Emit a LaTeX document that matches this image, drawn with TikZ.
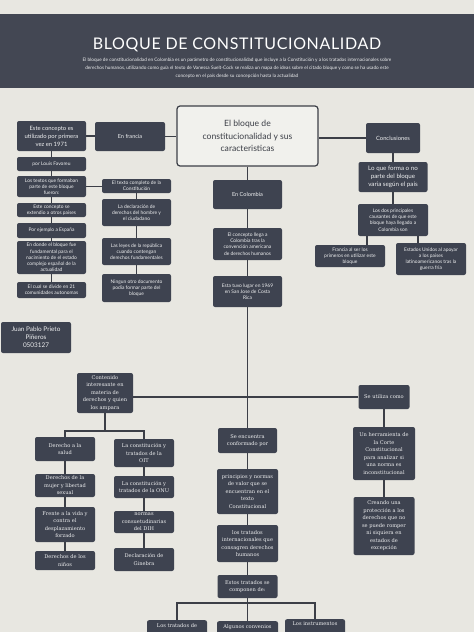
\documentclass[tikz,border=0pt]{standalone}
\usepackage{fontspec}
\setmainfont{DejaVu Serif}
\newfontfamily\boxsans{Lato}
\usetikzlibrary{positioning, calc}
\definecolor{fondo}{HTML}{E8E7E1}
\definecolor{oscuro}{HTML}{3E4350}
\definecolor{cabeza}{HTML}{434753}
\definecolor{linea}{HTML}{3C3F47}

\begin{document}
\begin{tikzpicture}[x=1pt, y=-1pt,
    caja/.style={fill=oscuro, text=white!92!oscuro, rounded corners=2pt, align=center, inner sep=1pt},
    arriba/.style={caja, font=\boxsans\fontsize{4.9}{6.2}\selectfont},
    abajo/.style={caja, font=\fontsize{5.1}{7.5}\selectfont},
    con/.style={draw=linea, line width=1.4pt}]
    \useasboundingbox (0,0) rectangle (474,632);
    \fill[fondo] (0,0) rectangle (474,632);
    \fill[cabeza] (0,14) rectangle (474,88);
    \node[text=white, font=\boxsans\fontsize{16}{20}\selectfont\addfontfeatures{LetterSpace=4}] (tit) at (237,45) {BLOQUE DE CONSTITUCIONALIDAD};
    \node[text=white!90!cabeza, align=center, font=\boxsans\fontsize{4.7}{8}\selectfont] (intro) at (237,68)
        {El bloque de constitucionalidad en Colombia es un parámetro de constitucionalidad que incluye a la Constitución y a los tratados internacionales sobre\\
         derechos humanos, utilizando como guía el texto de Vanessa Suelt-Cock se realiza un mapa de ideas sobre el citado bloque y como se ha usado este\\
         concepto en el país desde su concepción hasta la actualidad};

    % parte de arriba
    \node[draw=linea, line width=1.2pt, fill=fondo!60!white, rounded corners=3pt, minimum width=141, minimum height=60,
        align=center, text=linea, font=\boxsans\fontsize{8.6}{12.5}\selectfont] (m) at (247.5,136)
        {El bloque de\\constitucionalidad y sus\\caracteristicas};
    \node[arriba, font=\boxsans\fontsize{5.6}{7}\selectfont, minimum width=70, minimum height=29] (fr) at (130,136.5) {En francia};
    \node[arriba, font=\boxsans\fontsize{5.9}{8}\selectfont, minimum width=69, minimum height=30] (c1) at (51.5,136) {Este concepto es\\utilizado por primera\\vez en 1971};
    \node[arriba, minimum width=69, minimum height=14] (c2) at (51.5,164) {por Louis Favoreu};
    \node[arriba, minimum width=69, minimum height=21] (c3) at (51.5,186.5) {Los textos que formaban\\parte de este bloque\\fueron:};
    \node[arriba, minimum width=69, minimum height=14] (c4) at (51.5,210) {Este concepto se\\extendio a otros paises};
    \node[arriba, minimum width=69, minimum height=15] (c5) at (51.5,230.5) {Por ejemplo a España};
    \node[arriba, minimum width=69, minimum height=33] (c6) at (51.5,257.5) {En donde el bloque fue\\fundamental para el\\nacimiento de el estado\\complejo español de la\\actualidad};
    \node[arriba, minimum width=69, minimum height=16] (c7) at (51.5,290) {El cual se divide en 21\\comunidades autonomas};
    \node[arriba, minimum width=69, minimum height=14] (t1) at (136.5,186) {El texto completo de la\\Constitución};
    \node[arriba, minimum width=69, minimum height=27] (t2) at (136.5,212.5) {La declaración de\\derechos del hombre y\\el ciudadano};
    \node[arriba, minimum width=69, minimum height=27] (t3) at (136.5,251.5) {Las leyes de la república\\cuando contengan\\derechos fundamentales};
    \node[arriba, minimum width=69, minimum height=28] (t4) at (136.5,288) {Ningun otro documento\\podia formar parte del\\bloque};
    \node[arriba, font=\boxsans\fontsize{6.4}{8}\selectfont, minimum width=70, minimum height=31] (jp) at (36,337.5) {Juan Pablo Prieto\\Piñeros\\0503127};

    \node[arriba, font=\boxsans\fontsize{5.6}{7}\selectfont, minimum width=69, minimum height=29] (co) at (247.5,194.5) {En Colombia};
    \node[arriba, minimum width=69, minimum height=32] (cl) at (247.5,244) {El concepto llega a\\Colombia tras la\\convención americana\\de derechos humanos};
    \node[arriba, minimum width=69, minimum height=31] (cr) at (247.5,291.5) {Esta tuvo lugar en 1969\\en San Jose de Costa\\Rica};

    \node[arriba, font=\boxsans\fontsize{5.8}{7}\selectfont, minimum width=54, minimum height=30] (cn) at (393,138) {Conclusiones};
    \node[arriba, font=\boxsans\fontsize{6.2}{8}\selectfont, minimum width=69, minimum height=30] (v1) at (393,177) {Lo que forma o no\\parte del bloque\\varia según el país};
    \node[arriba, minimum width=70, minimum height=32] (v2) at (393,220) {Los dos principales\\causantes de que este\\bloque haya llegado a\\Colombia son};
    \node[arriba, minimum width=70, minimum height=22] (f1) at (350,256) {Francia al ser los\\primeros en utilizar este\\bloque};
    \node[arriba, minimum width=70, minimum height=32] (f2) at (431,259) {Estados Unidos al apoyar\\a los paises\\latinoamericanos tras la\\guerra fria};

    % parte de abajo
    \node[abajo, minimum width=56, minimum height=40] (ct) at (105,393) {Contenido\\interesante en\\materia de\\derechos y quien\\los ampara};
    \node[abajo, minimum width=51, minimum height=24] (su) at (384,397) {Se utiliza como};
    \node[abajo, minimum width=62, minimum height=53] (hu) at (384,453.5) {Un herramienta de\\la Corte\\Constitucional\\para analizar si\\una norma es\\inconstitucional};
    \node[abajo, minimum width=61, minimum height=58] (cp) at (384,526) {Creando una\\protección a los\\derechos que no\\se puede romper\\ni siquiera en\\estados de\\excepción};

    \node[abajo, minimum width=60, minimum height=24] (ds) at (65,449) {Derecho a la\\salud};
    \node[abajo, minimum width=60, minimum height=23] (mu) at (65,485.5) {Derechos de la\\mujer y libertad\\sexual};
    \node[abajo, minimum width=60, minimum height=35] (fv) at (65,524.5) {Frente a la vida y\\contra el\\desplazamiento\\forzado};
    \node[abajo, minimum width=60, minimum height=19] (ni) at (65,560.5) {Derechos de los\\niños};
    \node[abajo, minimum width=60, minimum height=28] (oit) at (144,453) {La constitución y\\tratados de la\\OIT};
    \node[abajo, minimum width=60, minimum height=22] (onu) at (144,487) {La constitución y\\tratados de la ONU};
    \node[abajo, minimum width=60, minimum height=22] (dih) at (144,522) {normas\\consuetudinarias\\del DIH};
    \node[abajo, minimum width=60, minimum height=23] (gi) at (144,559.5) {Declaración de\\Ginebra};

    \node[abajo, minimum width=59, minimum height=25] (se) at (247.5,440.5) {Se encuentra\\conformado por};
    \node[abajo, minimum width=61, minimum height=45] (pn) at (247.5,491.5) {principios y normas\\de valor que se\\encuentran en el\\texto\\Constitucional};
    \node[abajo, minimum width=61, minimum height=37] (ti) at (247.5,543.5) {los tratados\\internacionales que\\consagren derechos\\humanos};
    \node[abajo, minimum width=60, minimum height=23] (et) at (247.5,586.5) {Estos tratados se\\componen de:};
    \node[abajo, anchor=north, minimum width=60, inner ysep=3pt, text depth=14pt] (b1) at (177,620) {Los tratados de};
    \node[abajo, anchor=north, minimum width=61, inner ysep=3pt, text depth=14pt] (b2) at (247.5,621) {Algunos convenios};
    \node[abajo, anchor=north, minimum width=60, inner ysep=3pt, text depth=14pt] (b3) at (315,619) {Los instrumentos};

    \coordinate (kl) at (105,431);
    \coordinate (kb) at (247.5,603);
    \coordinate (x1) at (367,0);
    \coordinate (x2) at (418,0);

    % conectores
    \draw[con] (fr.east) -- (fr.east -| m.west);
    \draw[con] (c1.east) -- (c1.east -| fr.west);
    \draw[con] (c1) -- (c2) (c2) -- (c3) (c3) -- (c4) (c4) -- (c5) (c5) -- (c6) (c6) -- (c7);
    \draw[con] (c3.east) -- (c3.east -| t1.west);
    \draw[con] (t1) -- (t2) (t2) -- (t3) (t3) -- (t4);
    \draw[con] (m) -- (co) (co) -- (cl) (cl) -- (cr) (cr) -- (se);
    \draw[con] (cn.west) -- (cn.west -| m.east);
    \draw[con] (cn) -- (v1) (v1) -- (v2);
    \draw[con] (v2.south -| x1) -- (f1.north -| x1);
    \draw[con] (v2.south -| x2) -- (f2.north -| x2);
    \draw[con] (su.west) -- (su.west -| ct.east);
    \draw[con] (su) -- (hu) (hu) -- (cp);
    \draw[con] (ct) -- (kl);
    \draw[con] (ds) |- (kl) -| (oit);
    \draw[con] (ds) -- (mu) (mu) -- (fv) (fv) -- (ni);
    \draw[con] (oit) -- (onu) (onu) -- (dih) (dih) -- (gi);
    \draw[con] (se) -- (pn) (pn) -- (ti) (ti) -- (et) (et) -- (b2);
    \draw[con] (b1) |- (kb) -| (b3);
\end{tikzpicture}
\end{document}
